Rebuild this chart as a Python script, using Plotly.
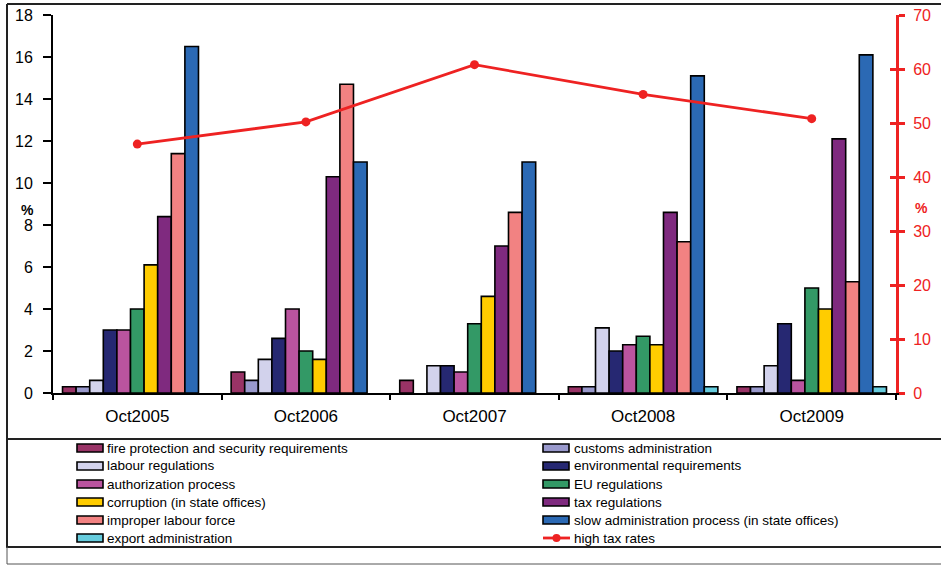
import plotly.graph_objects as go

# Survey waves
periods = ["Oct2005", "Oct2006", "Oct2007", "Oct2008", "Oct2009"]

# Share of respondents naming each barrier (%), left axis
fire_protection = [0.3, 1.0, 0.6, 0.3, 0.3]
customs_admin = [0.3, 0.6, None, 0.3, 0.3]
labour_regulations = [0.6, 1.6, 1.3, 3.1, 1.3]
environmental_req = [3.0, 2.6, 1.3, 2.0, 3.3]
authorization_process = [3.0, 4.0, 1.0, 2.3, 0.6]
eu_regulations = [4.0, 2.0, 3.3, 2.7, 5.0]
corruption = [6.1, 1.6, 4.6, 2.3, 4.0]
tax_regulations = [8.4, 10.3, 7.0, 8.6, 12.1]
improper_labour = [11.4, 14.7, 8.6, 7.2, 5.3]
slow_administration = [16.5, 11.0, 11.0, 15.1, 16.1]
export_admin = [None, None, None, 0.3, 0.3]

# High tax rates (%), right axis
high_tax_rates = [46.1, 50.2, 60.8, 55.3, 50.8]

left_ticks = list(range(0, 19, 2))
right_ticks = list(range(0, 71, 10))

bar_series = [
    ("fire protection and security requirements", fire_protection, "#993366"),
    ("customs administration", customs_admin, "#9999CC"),
    ("labour regulations", labour_regulations, "#D2D2EC"),
    ("environmental requirements", environmental_req, "#262872"),
    ("authorization process", authorization_process, "#BA549F"),
    ("EU regulations", eu_regulations, "#339966"),
    ("corruption (in state offices)", corruption, "#FFCC00"),
    ("tax regulations", tax_regulations, "#7F2A7F"),
    ("improper labour force", improper_labour, "#F28282"),
    ("slow administration process (in state offices)", slow_administration, "#2B69B4"),
    ("export administration", export_admin, "#66CCDD"),
]
line_name = "high tax rates"

FONT = "Arial, 'Liberation Sans', sans-serif"
RED = "#EE2222"

W, H = 941, 566
L, R, T, B = 53, 45, 15, 173
plot_w = W - L - R
plot_h = H - T - B


def px_x(px):
    return (px - L) / plot_w


def px_y(py):
    return (H - B - py) / plot_h


fig = go.Figure()

for name, vals, color in bar_series:
    fig.add_trace(go.Bar(
        name=name, x=periods, y=vals, showlegend=False,
        marker=dict(color=color, line=dict(color="black", width=1.6)),
    ))

fig.add_trace(go.Scatter(
    name=line_name, x=periods, y=high_tax_rates, yaxis="y2",
    showlegend=False, mode="lines+markers",
    line=dict(color=RED, width=2.8),
    marker=dict(color=RED, size=9, symbol="circle"),
))

# Carrier for the inner half of the right-axis tick marks
fig.add_trace(go.Scatter(
    x=periods, y=high_tax_rates, yaxis="y3", mode="lines",
    line=dict(width=0, color="rgba(0,0,0,0)"), showlegend=False,
    hoverinfo="skip",
))

# Frame lines around the chart and the legend panel
frame = dict(type="line", xref="paper", yref="paper", line=dict(color="#222222", width=2))
thin = dict(type="line", xref="paper", yref="paper", line=dict(color="#555555", width=1))
shapes = [
    dict(frame, x0=px_x(7), x1=px_x(941), y0=px_y(4), y1=px_y(4)),
    dict(frame, x0=px_x(7), x1=px_x(7), y0=px_y(4), y1=px_y(548)),
    dict(frame, x0=px_x(7), x1=px_x(941), y0=px_y(439), y1=px_y(439)),
    dict(frame, x0=px_x(7), x1=px_x(941), y0=px_y(547), y1=px_y(547)),
    dict(thin, x0=px_x(7), x1=px_x(941), y0=px_y(564), y1=px_y(564)),
    dict(thin, x0=px_x(7), x1=px_x(7), y0=px_y(547), y1=px_y(564)),
]

annotations = [
    dict(text="<b>%</b>", xref="paper", yref="paper", x=px_x(27), y=px_y(210),
         xanchor="center", yanchor="middle", showarrow=False,
         font=dict(family=FONT, size=14, color="black")),
    dict(text="<b>%</b>", xref="paper", yref="paper", x=px_x(921), y=px_y(208),
         xanchor="center", yanchor="middle", showarrow=False,
         font=dict(family=FONT, size=14, color=RED)),
]

# Two-column key below the plot: swatch + label for every series
swatch_left = [77, 543]
label_left = [105, 572]
row_top, row_step = 448, 18
legend_entries = [(name, color, "bar") for name, _, color in bar_series]
legend_entries.append((line_name, RED, "line"))

for i, (name, color, kind) in enumerate(legend_entries):
    col, row = i % 2, i // 2
    cy = row_top + row * row_step
    sx = swatch_left[col]
    if kind == "bar":
        shapes.append(dict(
            type="rect", xref="paper", yref="paper",
            x0=px_x(sx), x1=px_x(sx + 26), y0=px_y(cy - 4), y1=px_y(cy + 4),
            fillcolor=color, line=dict(color="black", width=1.6),
        ))
    else:
        shapes.append(dict(
            type="line", xref="paper", yref="paper",
            x0=px_x(sx), x1=px_x(sx + 27), y0=px_y(cy), y1=px_y(cy),
            line=dict(color=color, width=2.8),
        ))
        shapes.append(dict(
            type="circle", xref="paper", yref="paper",
            x0=px_x(sx + 9.5), x1=px_x(sx + 17.5), y0=px_y(cy - 4), y1=px_y(cy + 4),
            fillcolor=color, line=dict(color=color, width=0),
        ))
    annotations.append(dict(
        text=name, xref="paper", yref="paper",
        x=px_x(label_left[col]), y=px_y(cy),
        xanchor="left", yanchor="middle", showarrow=False,
        font=dict(family=FONT, size=13.5, color="black"),
    ))

fig.update_layout(
    width=W, height=H,
    margin=dict(l=L, r=R, t=T, b=B, autoexpand=False),
    paper_bgcolor="white", plot_bgcolor="white",
    barmode="group", bargap=0.113, bargroupgap=0,
    font=dict(family=FONT, color="black"),
    shapes=shapes, annotations=annotations,
    showlegend=False,
    xaxis=dict(
        type="category", tickson="boundaries",
        showline=True, linecolor="black", linewidth=2,
        ticks="outside", ticklen=5, tickcolor="black", tickwidth=2,
        tickfont=dict(family=FONT, size=17, color="black"),
        ticklabelstandoff=7,
        tickangle=0, showgrid=False, zeroline=False,
    ),
    yaxis=dict(
        range=[0, 18], tickvals=left_ticks,
        showline=True, linecolor="black", linewidth=2,
        ticks="outside", ticklen=8, tickcolor="black", tickwidth=2,
        tickfont=dict(family=FONT, size=16, color="black"),
        ticklabelstandoff=7,
        showgrid=False, zeroline=False,
    ),
    yaxis2=dict(
        range=[0, 70], tickvals=right_ticks, overlaying="y", side="right",
        showline=True, linecolor=RED, linewidth=3,
        ticks="outside", ticklen=6, tickcolor=RED, tickwidth=3,
        tickfont=dict(family=FONT, size=16, color=RED),
        ticklabelstandoff=5,
        showgrid=False, zeroline=False,
    ),
    yaxis3=dict(
        range=[0, 70], tickvals=right_ticks, overlaying="y", side="right",
        anchor="x", showline=False, showticklabels=False,
        ticks="inside", ticklen=6, tickcolor=RED, tickwidth=3,
        showgrid=False, zeroline=False,
    ),
)

fig.write_html("out.html")
